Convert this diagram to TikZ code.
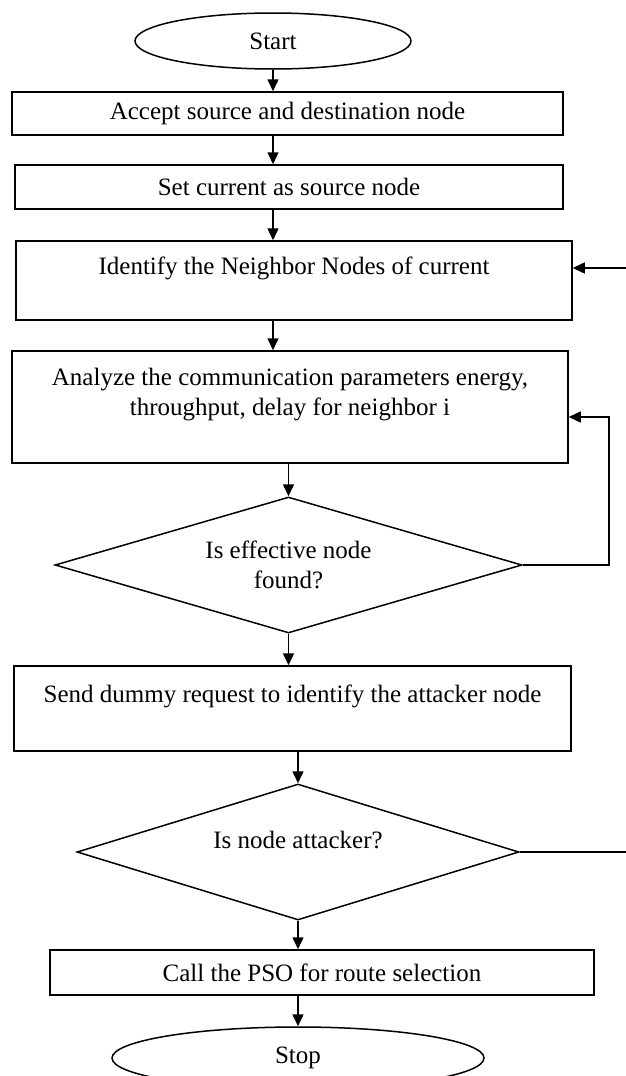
\documentclass[tikz,border=0pt]{standalone}
\usepackage{fontspec}
\setmainfont{Liberation Serif}
\usetikzlibrary{shapes.geometric,arrows.meta}
\begin{document}
\begin{tikzpicture}[x=1pt,y=-1pt,
  every node/.style={font=\fontsize{25}{30}\selectfont},
  term/.style={draw, ellipse, line width=1.5pt, inner sep=0pt},
  stepbox/.style={draw, rectangle, line width=1.5pt, inner sep=0pt, align=center},
  decide/.style={draw, diamond, line width=1.5pt, inner sep=0pt},
  txt/.style={align=center, inner sep=0pt},
  arr/.style={line width=1.5pt, -{Triangle[length=12pt,width=11pt]}},
  ln/.style={line width=1.5pt}]
\useasboundingbox (0,0) rectangle (626,1076);
\node[term, minimum width=276, minimum height=56] (start) at (273,41) {Start};
\node[stepbox, minimum width=551, minimum height=43] (b1) at (287.5,113.5) {\raisebox{-3pt}{Accept source and destination node}};
\node[stepbox, minimum width=548, minimum height=44] (b2) at (289,187) {Set current as source node};
\node[stepbox, minimum width=556, minimum height=79] (b3) at (294,280.5) {Identify the Neighbor Nodes of current\\ \mbox{}};
\node[stepbox, minimum width=556, minimum height=112] (b4) at (290,407) {Analyze the communication parameters energy,\\ throughput, delay for neighbor i\\ \mbox{}};
\node[decide, minimum width=467, minimum height=136] (d1) at (288.5,565) {};
\node[txt] (t1) at (d1.center) {Is effective node\\ found?};
\node[stepbox, minimum width=557, minimum height=85] (b5) at (292.5,708.5) {Send dummy request to identify the attacker node\\ \mbox{}};
\node[decide, minimum width=442, minimum height=136] (d2) at (298,852) {};
\node[txt] (t2) at (298,840) {Is node attacker?};
\node[stepbox, minimum width=544, minimum height=45] (b6) at (322,972.5) {Call the PSO for route selection};
\node[term, minimum width=372, minimum height=62] (stop) at (298,1058) {Stop};

\coordinate (r1) at (626,268);
\coordinate (c1) at (609,417);
\coordinate (r2) at (626,852);

\draw[arr] (start.south) -- (start.south |- b1.north);
\draw[arr] (start.south |- b1.south) -- (start.south |- b2.north);
\draw[arr] (start.south |- b2.south) -- (start.south |- b3.north);
\draw[arr] (start.south |- b3.south) -- (start.south |- b4.north);
\draw[arr] (d1.north |- b4.south) -- (d1.north);
\draw[arr] (d1.south) -- (d1.south |- b5.north);
\draw[arr] (d2.north |- b5.south) -- (d2.north);
\draw[arr] (d2.south) -- (d2.south |- b6.north);
\draw[arr] (d2.south |- b6.south) -- (stop.north);
\draw[arr] (r1) -- (b3.east |- r1);
\draw[arr] (d1.east) -| (c1) -- (b4.east |- c1);
\draw[ln] (d2.east) -- (r2);
\end{tikzpicture}
\end{document}
